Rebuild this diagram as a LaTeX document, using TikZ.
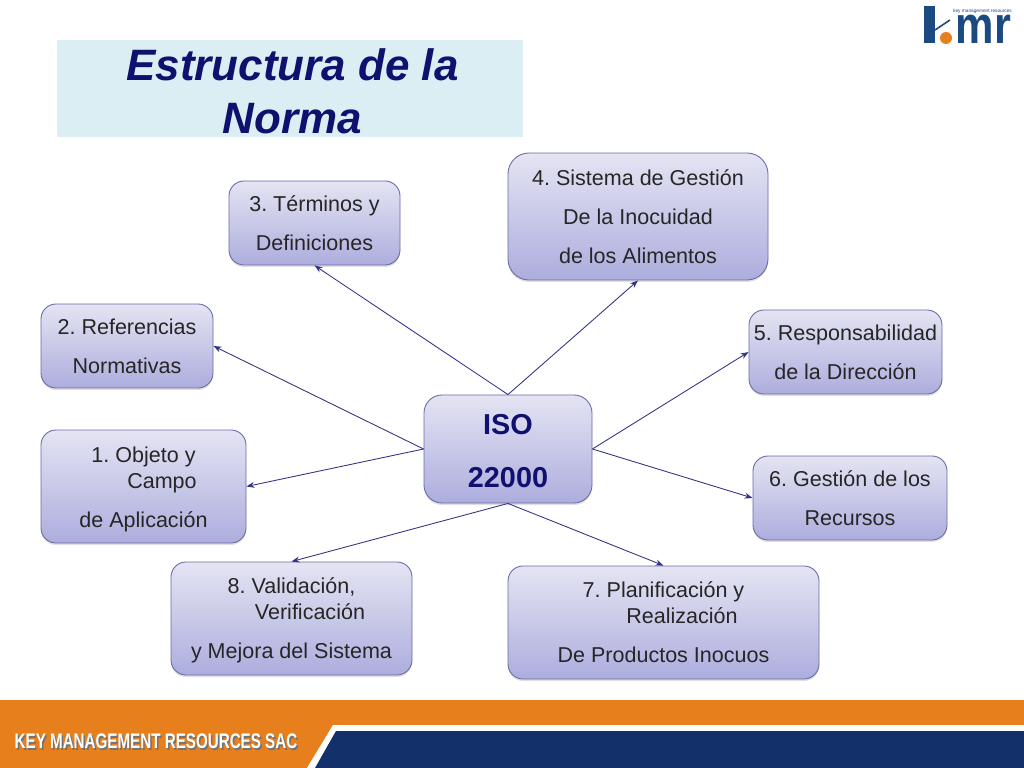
\documentclass[tikz,border=0pt]{standalone}
\usepackage{fontspec}
\setmainfont{Liberation Sans}
\usetikzlibrary{arrows.meta, shadows}

\definecolor{navy}{HTML}{10106E}
\definecolor{boxline}{HTML}{6A6AA8}
\definecolor{boxtop}{HTML}{E4E4F3}
\definecolor{boxbottom}{HTML}{ADADDE}
\definecolor{titleback}{HTML}{DBEEF3}
\definecolor{footorange}{HTML}{E77F1D}
\definecolor{footblue}{HTML}{14306A}
\definecolor{logoblue}{HTML}{1B4A80}

\newcommand{\hangline}{\hspace*{21pt}}
\frenchspacing

\tikzset{
    topic/.style={draw=boxline, line width=0.5pt, rounded corners=0.3cm, align=center,
        top color=boxtop, bottom color=boxbottom,
        drop shadow={opacity=0.25, shadow xshift=0cm, shadow yshift=-0.04cm},
        font=\fontsize{12.25}{14.8}\selectfont, text=black!85, inner sep=0pt},
    link/.style={->, draw=navy!85, line width=0.5pt},
    footlabel/.style={font=\fontsize{12}{13}\bfseries\selectfont, xscale=0.72, inner sep=0pt},
}

\begin{document}
\begin{tikzpicture}[auto, node distance=2cm, >={Stealth[length=1.6mm, width=1.2mm]}]

    \useasboundingbox (0,0) rectangle (20.48,-15.36);

    % Footer
    \fill[footorange] (0,-14) rectangle (20.48,-15.36);
    \fill[white] (6.14,-15.36) -- (6.66,-14.5) -- (20.48,-14.5) -- (20.48,-15.36) -- cycle;
    \fill[footblue] (6.3,-15.36) -- (6.72,-14.62) -- (20.48,-14.62) -- (20.48,-15.36) -- cycle;
    \node (footshadow) at (3.15,-14.86) [footlabel, text=black!55] {KEY MANAGEMENT RESOURCES SAC};
    \node (foot) at (3.12,-14.83) [footlabel, text=white] {KEY MANAGEMENT RESOURCES SAC};

    % Logo
    \fill[logoblue] (18.48,-0.12) rectangle (18.7,-0.86);
    \draw[logoblue, line width=0.9pt] (18.7,-0.6) -- (19.0,-0.4);
    \fill[footorange] (18.92,-0.76) circle (0.12);
    \node (logomr) at (19.67,-0.58) [text=logoblue, font=\fontsize{30}{30}\bfseries\selectfont, xscale=0.82, inner sep=0pt] {mr};
    \node (logotext) at (19.65,-0.22) [text=logoblue, font=\fontsize{2.7}{3}\selectfont, inner sep=0pt] {key management resources};

    % Title
    \fill[titleback] (1.14,-0.8) rectangle (10.46,-2.74);
    \node (title) at (5.85,-1.83) [align=center, text=navy, inner sep=0pt, font=\fontsize{25}{30.2}\bfseries\itshape\selectfont] {Estructura de la\\Norma};

    % Nodes
    \node (iso) at (10.16,-8.98) [topic, minimum width=3.36cm, minimum height=2.16cm, rounded corners=0.36cm, text=navy, font=\fontsize{16.4}{30.2}\bfseries\selectfont] {\rule{0pt}{14.1pt}ISO\\22000};
    \node (terminos) [above of=iso, node distance=4.52cm, xshift=-3.87cm, topic, minimum width=3.42cm, minimum height=1.68cm] {3. Términos y\\[7.4pt]Definiciones};
    \node (sistema) [above of=iso, node distance=4.65cm, xshift=2.6cm, topic, minimum width=5.2cm, minimum height=2.54cm, rounded corners=0.42cm] {4. Sistema de Gestión\\[7.4pt]De la Inocuidad\\[7.4pt]de los Alimentos};
    \node (referencias) [above of=iso, node distance=2.06cm, xshift=-7.62cm, topic, minimum width=3.44cm, minimum height=1.68cm] {2. Referencias\\[7.4pt]Normativas};
    \node (direccion) [above of=iso, node distance=1.94cm, xshift=6.75cm, topic, minimum width=3.86cm, minimum height=1.68cm] {5. Responsabilidad\\[7.4pt]de la Dirección};
    \node (objeto) [below of=iso, node distance=0.75cm, xshift=-7.29cm, topic, minimum width=4.1cm, minimum height=2.26cm] {\rule{0pt}{12.4pt}1. Objeto y\\\hangline Campo\\[7.4pt]de Aplicación};
    \node (recursos) [below of=iso, node distance=0.98cm, xshift=6.84cm, topic, minimum width=3.88cm, minimum height=1.68cm] {6. Gestión de los\\[7.4pt]Recursos};
    \node (validacion) [below of=iso, node distance=3.39cm, xshift=-4.33cm, topic, minimum width=4.82cm, minimum height=2.26cm] {\rule{0pt}{11.3pt}8. Validación,\\\hangline Verificación\\[7.4pt]y Mejora del Sistema};
    \node (planificacion) [below of=iso, node distance=3.47cm, xshift=3.11cm, topic, minimum width=6.22cm, minimum height=2.26cm] {7. Planificación y\\\hangline Realización\\[7.4pt]De Productos Inocuos};

    % Arrows
    \draw[link] (iso.north) -- (terminos.south);
    \draw[link] (iso.north) -- (sistema.south);
    \draw[link] (iso.west) -- (referencias.east);
    \draw[link] (iso.west) -- (objeto.east);
    \draw[link] (iso.east) -- (direccion.west);
    \draw[link] (iso.east) -- (recursos.west);
    \draw[link] (iso.south) -- (validacion.north);
    \draw[link] (iso.south) -- (planificacion.north);

\end{tikzpicture}
\end{document}
